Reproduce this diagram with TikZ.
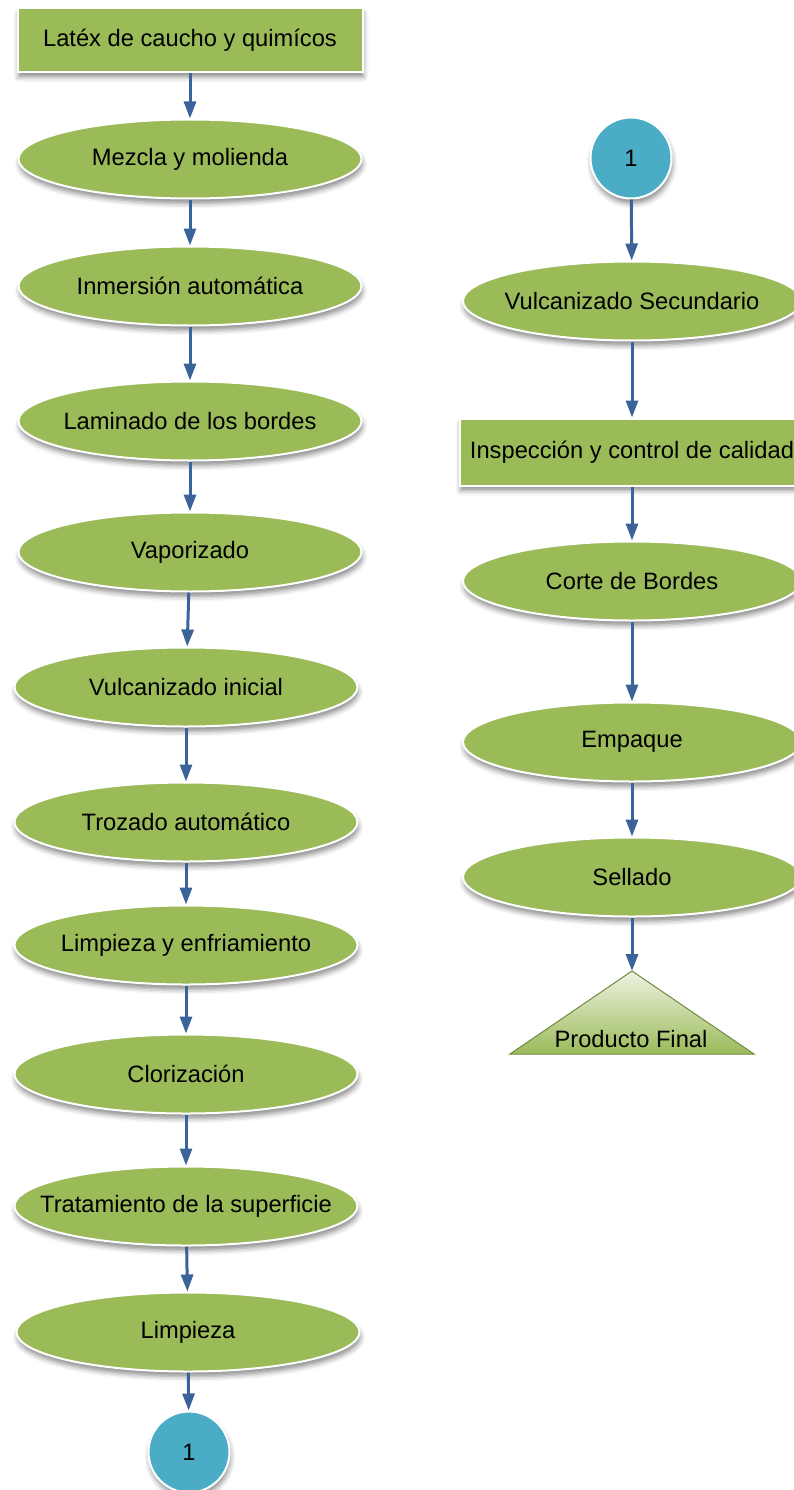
\documentclass[tikz,border=0pt]{standalone}
\usepackage{fontspec}
\setmainfont{Liberation Sans}
\usetikzlibrary{arrows.meta,shapes.geometric,shadows.blur}

\definecolor{stepgreen}{HTML}{9BBB59}
\definecolor{linkblue}{HTML}{4BACC6}
\definecolor{arrowblue}{HTML}{3A6399}
\definecolor{edgegreen}{HTML}{71893F}
\definecolor{palegreen}{HTML}{EEF3E2}

% zero-width label, so the shape keeps its own size
\newcommand{\steplabel}[1]{\makebox[0pt][c]{#1}}

\tikzset{
  base/.style={fill=stepgreen, draw=white, line width=2pt, inner sep=0pt,
    font=\fontsize{23.7}{28}\selectfont, text=black,
    blur shadow={shadow xshift=1pt, shadow yshift=-5pt,
      shadow blur radius=5pt, shadow opacity=45}},
  proc/.style={base, ellipse, minimum width=343pt, minimum height=79pt},
  boxstep/.style={base, rectangle, minimum width=345pt, minimum height=64pt},
  link/.style={base, circle, fill=linkblue, minimum size=81pt},
  flow/.style={draw=arrowblue, line width=3pt,
    -{Triangle[length=17pt,width=12pt]}},
}

\begin{document}
\begin{tikzpicture}[x=1pt,y=-1pt]
  \useasboundingbox (0,0) rectangle (794,1490);
  \clip (0,0) rectangle (794,1490);

  % left column
  \node[boxstep] (raw)   at (190,40)   {\steplabel{Latéx de caucho y quimícos}};
  \node[proc]    (mix)   at (190,159)  {\steplabel{Mezcla y molienda}};
  \node[proc]    (dip)   at (190,286)  {\steplabel{Inmersión automática}};
  \node[proc]    (lam)   at (190,421)  {\steplabel{Laminado de los bordes}};
  \node[proc]    (vap)   at (190,552)  {\steplabel{Vaporizado}};
  \node[proc]    (vul)   at (186,687)  {\steplabel{Vulcanizado inicial}};
  \node[proc]    (chop)  at (186,822)  {\steplabel{Trozado automático}};
  \node[proc]    (cool)  at (186,945)  {\steplabel{Limpieza y enfriamiento}};
  \node[proc]    (chl)   at (186,1074) {\steplabel{Clorización}};
  \node[proc]    (surf)  at (186,1206) {\steplabel{Tratamiento de la superficie}};
  \node[proc]    (clean) at (188,1332) {\steplabel{Limpieza}};
  \node[link]    (outc)  at (189,1452) {1};

  % right column
  \node[link]    (inc)   at (631,158)  {1};
  \node[proc, minimum width=338pt] (vul2) at (632,301) {\steplabel{Vulcanizado Secundario}};
  \node[boxstep, minimum height=67pt] (insp) at (632,452) {\steplabel{Inspección y control de calidad}};
  \node[proc, minimum width=338pt] (trim) at (632,581) {\steplabel{Corte de Bordes}};
  \node[proc, minimum width=338pt] (pack) at (632,742) {\steplabel{Empaque}};
  \node[proc, minimum width=338pt] (seal) at (632,877) {\steplabel{Sellado}};

  % final product triangle
  \coordinate (apex) at (632,971);
  \shade[top color=palegreen, bottom color=stepgreen, draw=edgegreen, line width=1pt]
    (apex) -- (754,1054) -- (510,1054) -- cycle;
  \node[font=\fontsize{23.7}{28}\selectfont, inner sep=0pt] (final) at (631,1039) {Producto Final};

  % connectors
  \draw[flow] (raw) -- (mix);
  \draw[flow] (mix) -- (dip);
  \draw[flow] (dip) -- (lam);
  \draw[flow] (lam) -- (vap);
  \draw[flow] (vap) -- (vul);
  \draw[flow] (vul) -- (chop);
  \draw[flow] (chop) -- (cool);
  \draw[flow] (cool) -- (chl);
  \draw[flow] (chl) -- (surf);
  \draw[flow] (surf) -- (clean);
  \draw[flow] (clean) -- (outc);
  \draw[flow] (inc) -- (vul2);
  \draw[flow] (vul2) -- (insp);
  \draw[flow] (insp) -- (trim);
  \draw[flow] (trim) -- (pack);
  \draw[flow] (pack) -- (seal);
  \draw[flow] (seal) -- (apex);
\end{tikzpicture}
\end{document}
